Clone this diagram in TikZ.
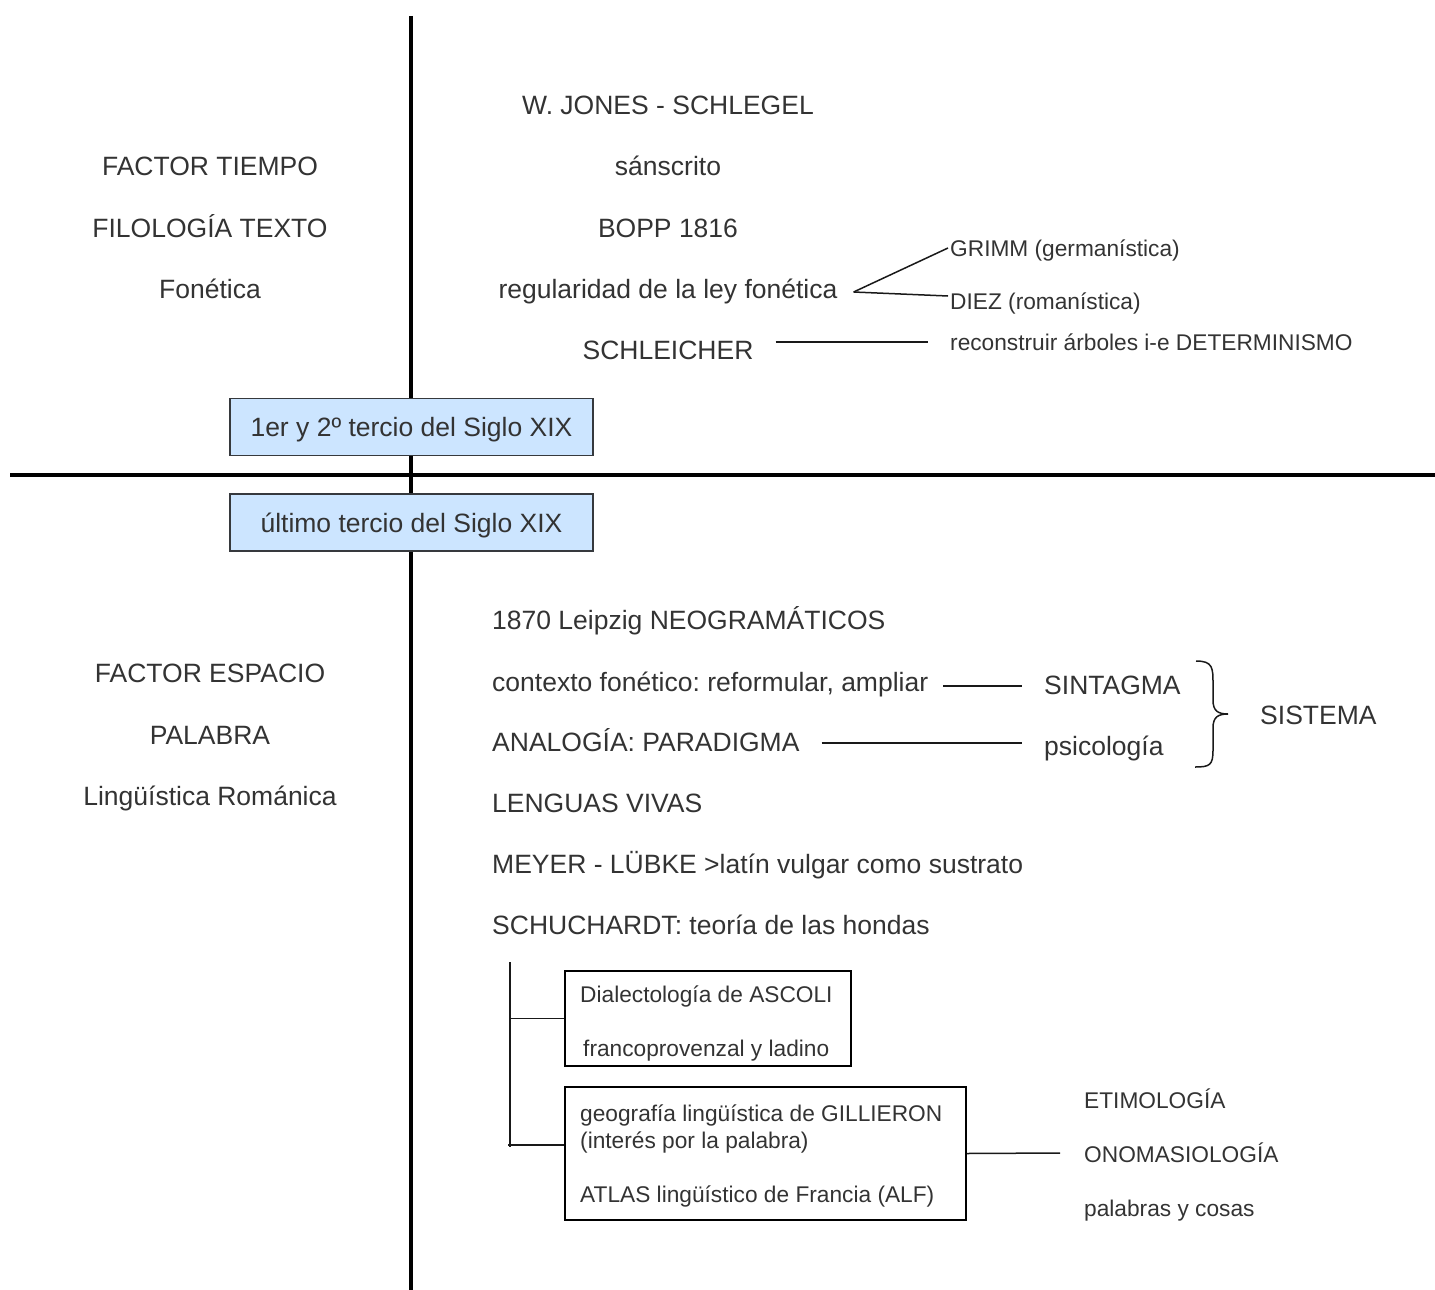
\documentclass[tikz,border=0pt]{standalone}
\usepackage{fontspec}
\setmainfont{Liberation Sans}
\frenchspacing
\definecolor{txtgray}{HTML}{333333}
\definecolor{boxblue}{HTML}{CCE5FF}
\definecolor{boxline}{HTML}{36393D}
\tikzstyle{every node}=[text=txtgray, inner sep=0pt]
\tikzstyle{bigtext}=[font=\fontsize{26.5}{30}\selectfont, text height=19pt, text depth=0pt]
\tikzstyle{smalltext}=[font=\fontsize{22.7}{26}\selectfont, text height=16.3pt, text depth=0pt]
\tikzstyle{era}=[bigtext, draw=boxline, fill=boxblue, line width=1.5pt, minimum width=363pt, minimum height=57pt]
\tikzstyle{boxframe}=[draw=black, line width=1.5pt]
\tikzstyle{mainline}=[line width=4.5pt]
\tikzstyle{link}=[line width=1.5pt, draw=black!90]

\begin{document}
\frenchspacing
\begin{tikzpicture}[x=1pt, y=-1pt]
	\useasboundingbox (0,0) rectangle (1435,1290);
	\draw[mainline] (411,16) -- (411,1290);
	\draw[mainline] (10,475) -- (1435,475);
	\node[era] (first) at (411.5,427) {1er y 2º tercio del Siglo XIX};
	\node[era] (last) at (411.5,522.5) {último tercio del Siglo XIX};
	% first and second third
	\node[bigtext] (tiempo) at (210,166) {FACTOR TIEMPO};
	\node[bigtext] (filologia) at (210,228) {FILOLOGÍA TEXTO};
	\node[bigtext] (fonetica) at (210,289) {Fonética};
	\node[bigtext] (jones) at (668,105) {W. JONES - SCHLEGEL};
	\node[bigtext] (sanscrito) at (668,166) {sánscrito};
	\node[bigtext] (bopp) at (668,228) {BOPP 1816};
	\node[bigtext] (ley) at (668,289) {regularidad de la ley fonética};
	\node[bigtext] (schleicher) at (668,350) {SCHLEICHER};
	\node[smalltext, anchor=west] (grimm) at (950,248) {GRIMM (germanística)};
	\node[smalltext, anchor=west] (diez) at (950,301) {DIEZ (romanística)};
	\node[smalltext, anchor=west] (arboles) at (950,342) {reconstruir árboles i-e DETERMINISMO};
	\coordinate (fork) at ([xshift=16pt,yshift=-3pt]ley.east);
	\draw[link] (fork) -- ([xshift=-2pt]grimm.west);
	\draw[link] (fork) -- ([xshift=-2pt,yshift=5pt]diez.west);
	\draw[link] ([xshift=22pt,yshift=8pt]schleicher.east) -- ([xshift=-22pt]arboles.west);
	% last third
	\node[bigtext] (espacio) at (210,673) {FACTOR ESPACIO};
	\node[bigtext] (palabra) at (210,735) {PALABRA};
	\node[bigtext] (romanica) at (210,796) {Lingüística Románica};
	\node[bigtext, anchor=west] (leipzig) at (492,620) {1870 Leipzig NEOGRAMÁTICOS};
	\node[bigtext, anchor=west] (contexto) at (492,682) {contexto fonético: reformular, ampliar};
	\node[bigtext, anchor=west] (analogia) at (492,742) {ANALOGÍA: PARADIGMA};
	\node[bigtext, anchor=west] (vivas) at (492,803) {LENGUAS VIVAS};
	\node[bigtext, anchor=west] (meyer) at (492,864) {MEYER - LÜBKE >latín vulgar como sustrato};
	\node[bigtext, anchor=west] (schuchardt) at (492,925) {SCHUCHARDT: teoría de las hondas};
	\node[bigtext, anchor=west] (sintagma) at (1044,685) {SINTAGMA};
	\node[bigtext, anchor=west] (psicologia) at (1044,746) {psicología};
	\node[bigtext, anchor=west] (sistema) at (1260,715) {SISTEMA};
	\draw[link] ([xshift=15pt,yshift=-4pt]contexto.east) -- ([xshift=-22pt,yshift=-1pt]sintagma.west);
	\draw[link] ([xshift=22pt,yshift=-1pt]analogia.east) -- ([xshift=-22pt,yshift=3pt]psicologia.west);
	\draw[link] (1196,661) .. controls (1213,661) and (1213,668) .. (1213,684) -- (1213,700)
		.. controls (1213,711) and (1218,714) .. (1228,714)
		.. controls (1218,714) and (1213,717) .. (1213,728) -- (1213,750)
		.. controls (1213,765) and (1210,767) .. (1195,767);
	% dialectology boxes
	\node[boxframe, minimum width=286pt, minimum height=95pt] (ascolibox) at (708,1018.5) {};
	\node[smalltext, anchor=west] (ascoli) at (580,994) {Dialectología de ASCOLI};
	\node[smalltext, anchor=west] (franco) at (583,1048) {francoprovenzal y ladino};
	\node[boxframe, minimum width=401pt, minimum height=133pt] (gillbox) at (765.5,1153.5) {};
	\node[smalltext, anchor=west] (gillieron) at (580,1113) {geografía lingüística de GILLIERON};
	\node[smalltext, anchor=west] (interes) at (580,1140) {(interés por la palabra)};
	\node[smalltext, anchor=west] (atlas) at (580,1194) {ATLAS lingüístico de Francia (ALF)};
	\coordinate (stem) at (510,962);
	\coordinate (stemfoot) at (510,1147);
	\coordinate (gillfork) at (508,1145);
	\draw[link] (stem) -- (stemfoot);
	\draw[link] (stem |- ascolibox.west) -- (ascolibox.west);
	\draw[link] (gillfork) -- (gillfork -| gillbox.west);
	\node[smalltext, anchor=west] (etimologia) at (1084,1100) {ETIMOLOGÍA};
	\node[smalltext, anchor=west] (onomasiologia) at (1084,1154) {ONOMASIOLOGÍA};
	\node[smalltext, anchor=west] (cosas) at (1084,1208) {palabras y cosas};
	\coordinate (gillend) at (1060,1153);
	\draw[link] (gillbox.east) -- (gillend);
\end{tikzpicture}
\end{document}
